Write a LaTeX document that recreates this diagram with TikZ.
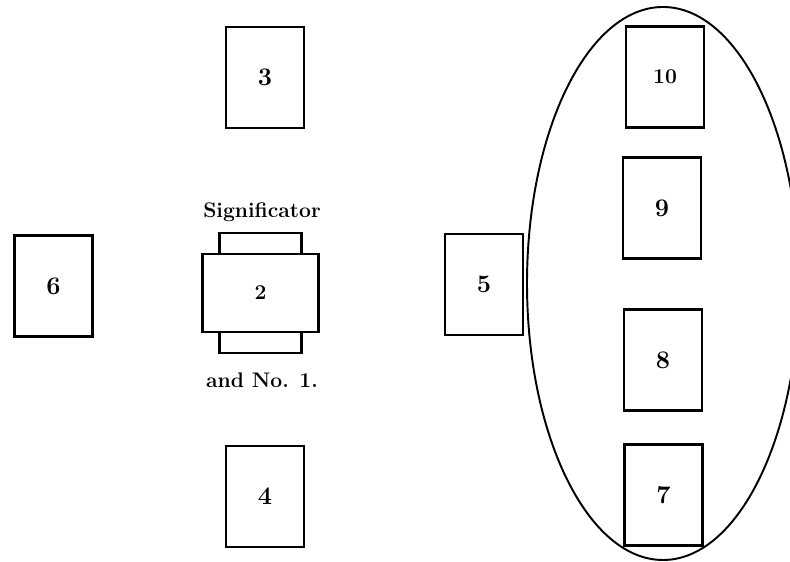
\documentclass[tikz,border=0pt]{standalone}
\usepackage{tikz}
\tikzset{card/.style={draw, fill=white, line width=1.6pt, minimum width=1.56cm, minimum height=2.02cm, font=\bfseries\Large}}

\begin{document}
\begin{tikzpicture}
    \useasboundingbox(0, 0) rectangle (15.8, 11.24);
    \clip(0, 0) rectangle (15.8, 11.24);
    \node[card](c3) at (5.30, 9.69) {3};
    \node[card](c6) at (1.07, 5.52) {6};
    \node[card](c5) at (9.68, 5.55) {5};
    \node[card](c4) at (5.30, 1.31) {4};
    \node[card, minimum width=1.64cm, minimum height=2.4cm](c1) at (5.21, 5.38) {};
    \node[card, minimum width=2.32cm, minimum height=1.56cm](c2) at (5.21, 5.38) {\large 2};
    \node[font=\bfseries\large](sig) at (5.24, 7.00) {Significator};
    \node[font=\bfseries\large](no1) at (5.24, 3.64) {and No. 1.};
    \node[card](c10) at (13.30, 9.70) {\large 10};
    \node[card](c9) at (13.24, 7.08) {9};
    \node[card](c8) at (13.26, 4.04) {8};
    \node[card](c7) at (13.27, 1.34) {7};
    \draw[line width=1.1pt](13.26, 5.57) ellipse (2.72 and 5.53);
\end{tikzpicture}
\end{document}
